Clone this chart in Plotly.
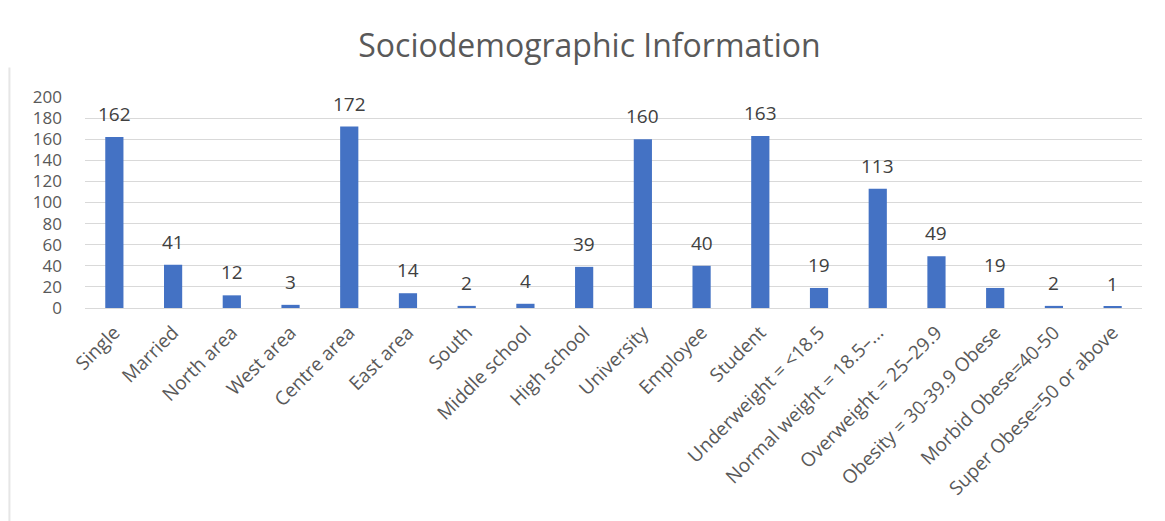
import plotly.graph_objects as go

categories = [
    "Single", "Married", "North area", "West area", "Centre area", "East area",
    "South", "Middle school", "High school", "University", "Employee", "Student",
    "Underweight = <18.5", "Normal weight = 18.5–...", "Overweight = 25–29.9",
    "Obesity = 30-39.9 Obese", "Morbid Obese=40-50", "Super Obese=50 or above",
]
counts = [162, 41, 12, 3, 172, 14, 2, 4, 39, 160, 40, 163, 19, 113, 49, 19, 2, 1]
y_ticks = list(range(0, 201, 20))

BAR = "#4472C4"
TEXT = "#595959"
FONT = "Open Sans, Carlito, Liberation Sans, sans-serif"

fig = go.Figure(
    go.Bar(x=categories, y=counts, marker_color=BAR, marker_line_width=0, width=0.31)
)

# value labels above each bar
for c, v in zip(categories, counts):
    fig.add_annotation(
        x=c, y=v, text=str(v), showarrow=False, yanchor="bottom", yshift=8,
        font=dict(family=FONT, size=19, color="#404040"),
    )

# chart-area frame edge on the left
fig.add_shape(
    type="line", xref="paper", yref="paper", x0=-0.0715, x1=-0.0715, y0=-1.05, y1=1.14,
    line=dict(color="#e6e6e6", width=2),
)

fig.update_layout(
    width=1165, height=521,
    margin=dict(l=85, r=23, t=97, b=213),
    paper_bgcolor="white", plot_bgcolor="white",
    showlegend=False,
    title=dict(
        text="Sociodemographic Information", x=0.506, xref="container", xanchor="center",
        y=0.912, yanchor="middle",
        font=dict(family=FONT, size=32, color=TEXT),
    ),
    xaxis=dict(
        tickangle=-45, tickfont=dict(family=FONT, size=19, color=TEXT),
        showline=True, linecolor="#d9d9d9", ticks="", showgrid=False, automargin=False,
        ticklabelstandoff=5,
    ),
    yaxis=dict(
        range=[0, 200], tickvals=y_ticks, tickfont=dict(family=FONT, size=17, color=TEXT),
        showgrid=True, gridcolor="#d9d9d9", zeroline=False, ticks="", automargin=False,
        ticklabelstandoff=22,
    ),
)

fig.write_html("out.html")
